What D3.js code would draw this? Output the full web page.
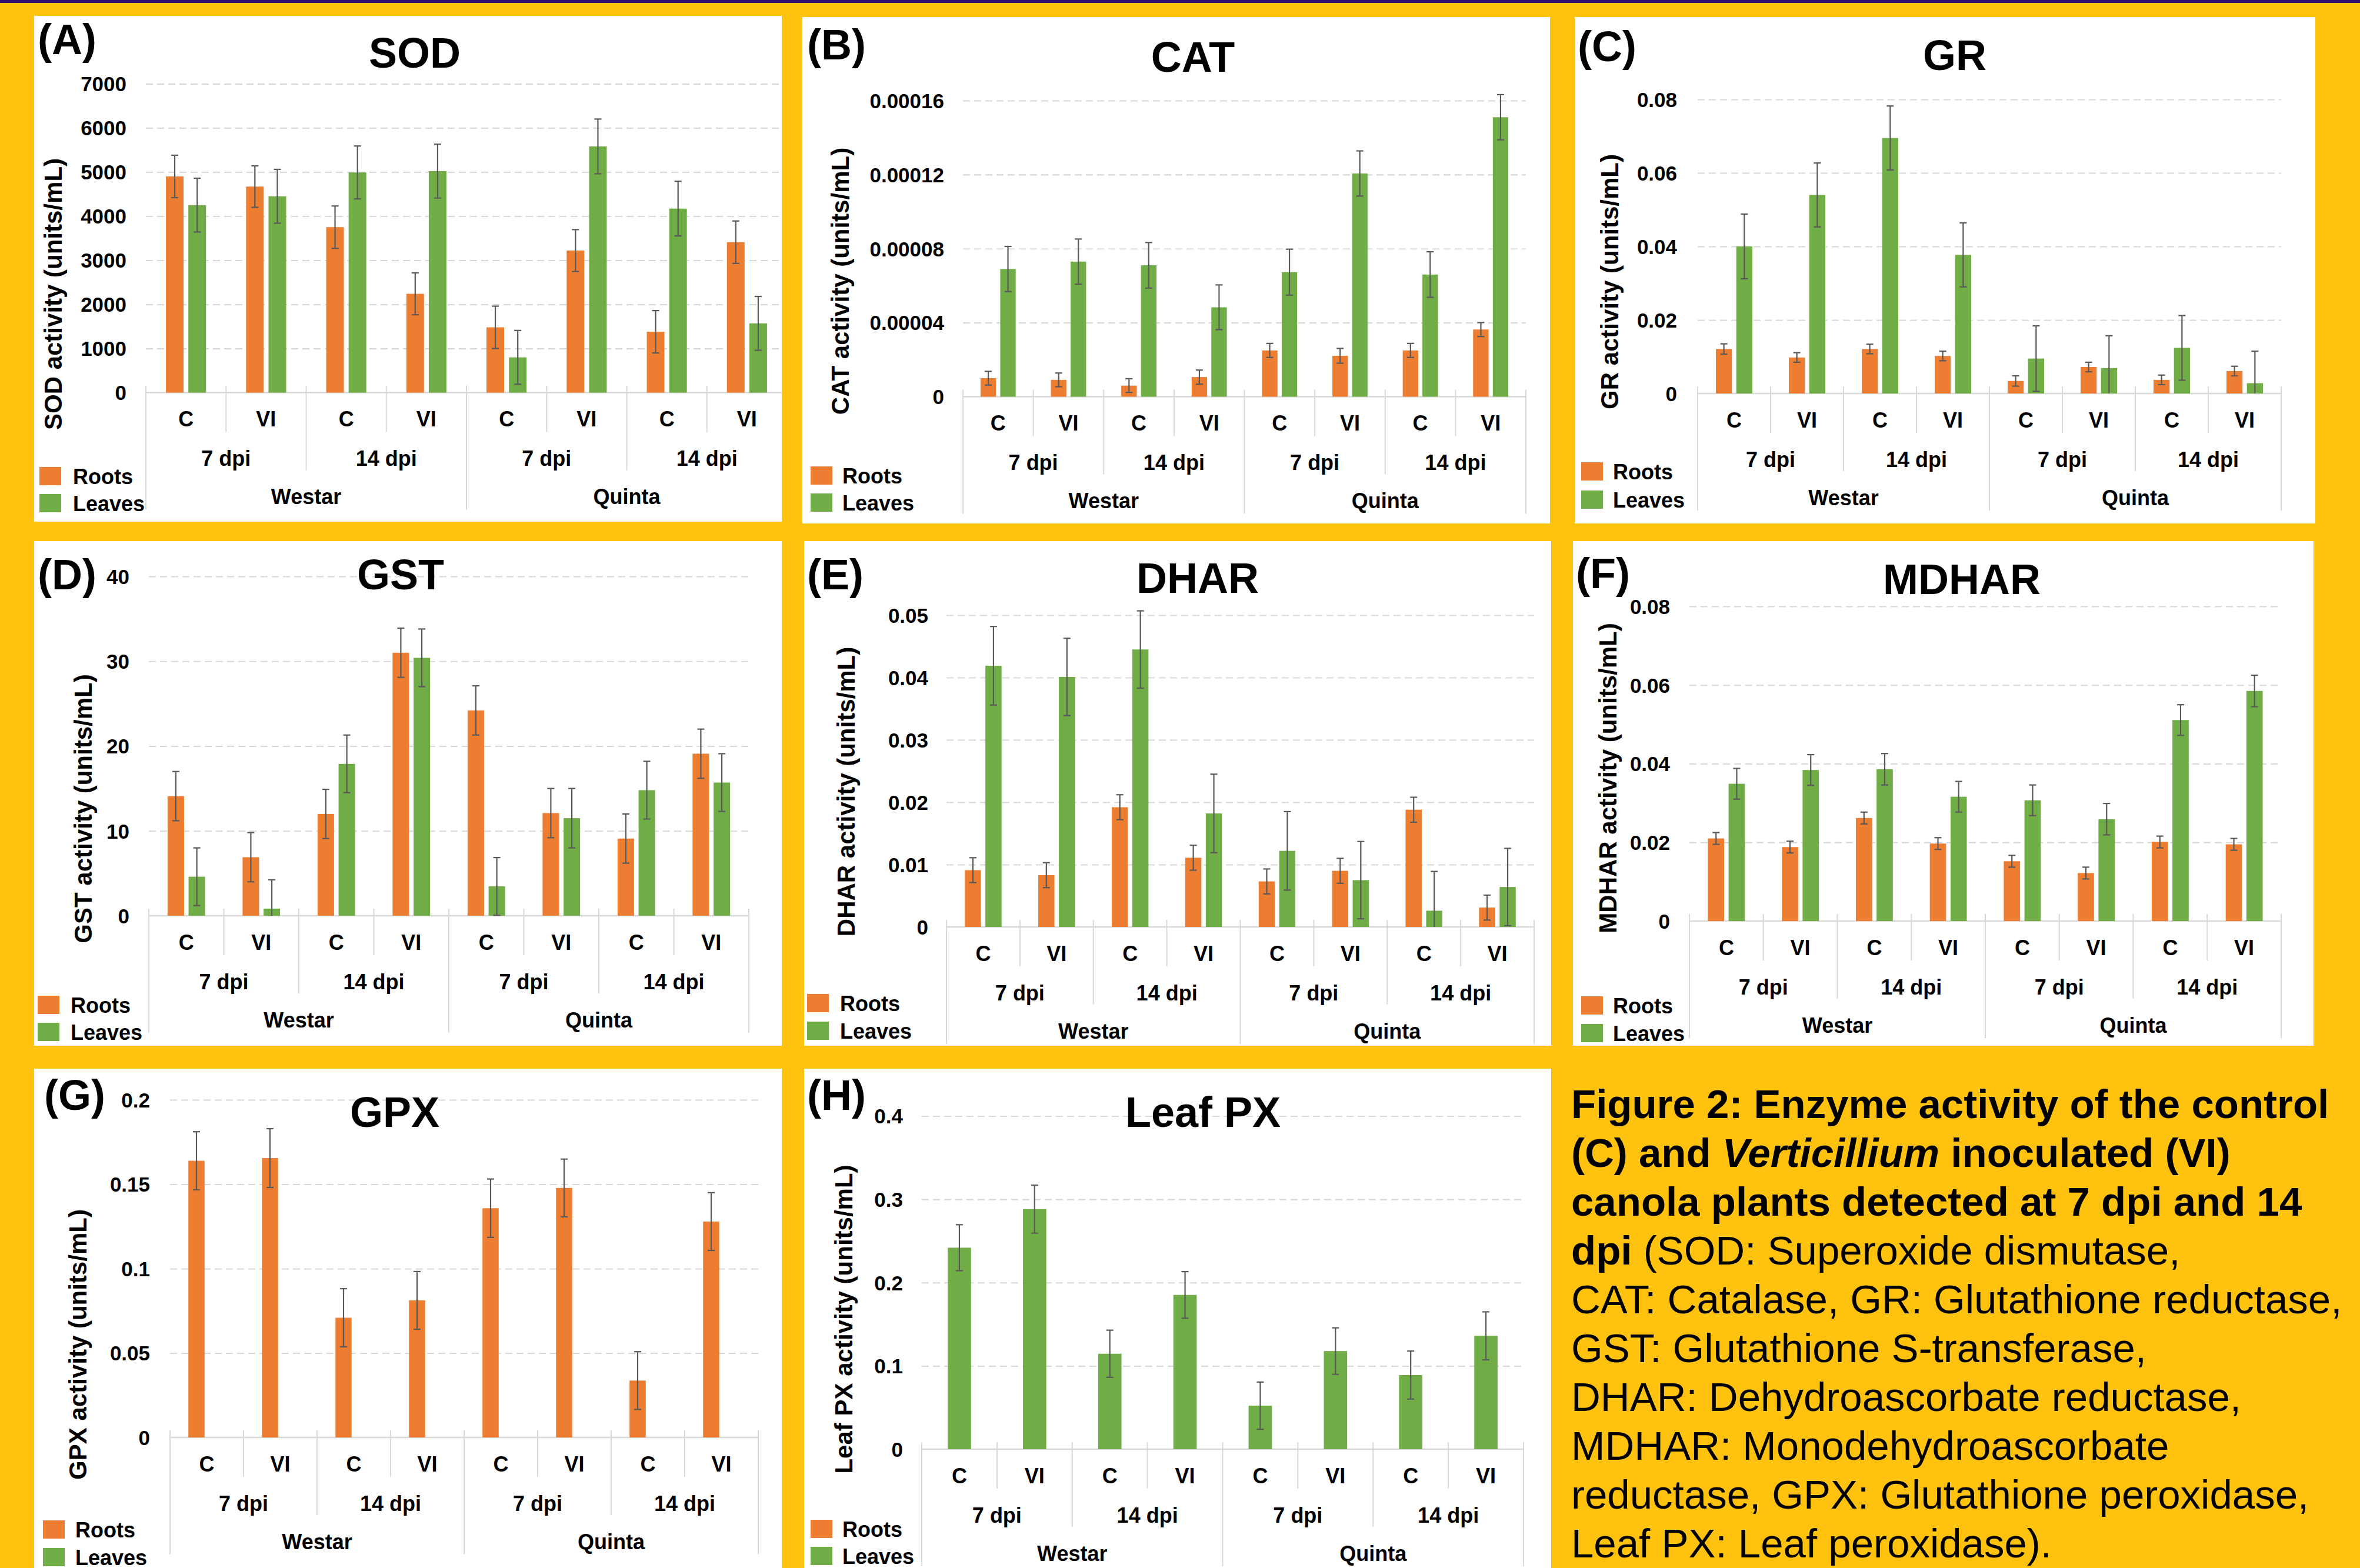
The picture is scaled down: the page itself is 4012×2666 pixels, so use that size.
<!DOCTYPE html>
<html>
<head>
<meta charset="utf-8">
<script src="https://cdn.jsdelivr.net/npm/d3@7"></script>
<style>
  body { margin: 0; background: #FFC20E; }
  svg { display: block; font-family: "Liberation Sans", Arial, sans-serif; }
  text { white-space: pre; }
</style>
</head>
<body>
<svg id="fig" width="4012" height="2666"></svg>
<script>
// categories on the multi-level x axis
const categories = ["C", "VI", "C", "VI", "C", "VI", "C", "VI"];
const dpiLabels = ["7 dpi", "14 dpi", "7 dpi", "14 dpi"];
const cultivars = ["Westar", "Quinta"];
const seriesNames = ["Roots", "Leaves"];

// SOD
const sodRoots = [4900, 4670, 3750, 2240, 1480, 3220, 1380, 3410];
const sodRootsErr = [480, 470, 480, 475, 480, 475, 480, 480];
const sodLeaves = [4250, 4450, 4990, 5020, 800, 5580, 4170, 1570];
const sodLeavesErr = [610, 610, 600, 610, 610, 620, 620, 610];
const sodTicks = [0, 1000, 2000, 3000, 4000, 5000, 6000, 7000];
const sodTickLabels = ["0", "1000", "2000", "3000", "4000", "5000", "6000", "7000"];

// CAT
const catRoots = [0.0000100, 0.0000091, 0.0000060, 0.0000106, 0.0000250, 0.0000221, 0.0000250, 0.0000363];
const catRootsErr = [0.0000037, 0.0000037, 0.0000037, 0.0000038, 0.0000038, 0.0000040, 0.0000038, 0.0000038];
const catLeaves = [0.0000690, 0.0000730, 0.0000710, 0.0000483, 0.0000673, 0.0001206, 0.0000660, 0.0001510];
const catLeavesErr = [0.0000122, 0.0000122, 0.0000123, 0.0000121, 0.0000124, 0.0000122, 0.0000123, 0.0000122];
const catTicks = [0, 0.00004, 0.00008, 0.00012, 0.00016];
const catTickLabels = ["0", "0.00004", "0.00008", "0.00012", "0.00016"];

// GR
const grRoots = [0.0121, 0.0098, 0.0121, 0.0102, 0.0034, 0.0072, 0.0037, 0.0061];
const grRootsErr = [0.0014, 0.0013, 0.0013, 0.0013, 0.0014, 0.0013, 0.0013, 0.0013];
const grLeaves = [0.0400, 0.0540, 0.0695, 0.0377, 0.0095, 0.0069, 0.0124, 0.0028];
const grLeavesErr = [0.0088, 0.0087, 0.0087, 0.0087, 0.0089, 0.0088, 0.0088, 0.0087];
const grTicks = [0, 0.02, 0.04, 0.06, 0.08];
const grTickLabels = ["0", "0.02", "0.04", "0.06", "0.08"];

// GST
const gstRoots = [14.1, 6.9, 12.0, 31.0, 24.2, 12.1, 9.1, 19.1];
const gstRootsErr = [2.9, 2.9, 2.9, 2.9, 2.9, 2.9, 2.9, 2.9];
const gstLeaves = [4.6, 0.84, 17.9, 30.4, 3.46, 11.5, 14.8, 15.7];
const gstLeavesErr = [3.4, 3.4, 3.4, 3.4, 3.4, 3.5, 3.4, 3.4];
const gstTicks = [0, 10, 20, 30, 40];
const gstTickLabels = ["0", "10", "20", "30", "40"];

// DHAR
const dharRoots = [0.0091, 0.0083, 0.0192, 0.0111, 0.0073, 0.0090, 0.0188, 0.0031];
const dharRootsErr = [0.0020, 0.0020, 0.0020, 0.0020, 0.0020, 0.0020, 0.0020, 0.0020];
const dharLeaves = [0.0419, 0.0401, 0.0445, 0.0182, 0.0122, 0.0075, 0.0026, 0.0064];
const dharLeavesErr = [0.0063, 0.0062, 0.0062, 0.0063, 0.0063, 0.0062, 0.0063, 0.0062];
const dharTicks = [0, 0.01, 0.02, 0.03, 0.04, 0.05];
const dharTickLabels = ["0", "0.01", "0.02", "0.03", "0.04", "0.05"];

// MDHAR
const mdharRoots = [0.0210, 0.0188, 0.0262, 0.0197, 0.0152, 0.0122, 0.0201, 0.0195];
const mdharRootsErr = [0.0015, 0.0015, 0.0015, 0.0015, 0.0015, 0.0015, 0.0015, 0.0015];
const mdharLeaves = [0.0349, 0.0384, 0.0386, 0.0316, 0.0307, 0.0259, 0.0511, 0.0585];
const mdharLeavesErr = [0.0039, 0.0039, 0.0040, 0.0039, 0.0039, 0.0040, 0.0039, 0.0040];
const mdharTicks = [0, 0.02, 0.04, 0.06, 0.08];
const mdharTickLabels = ["0", "0.02", "0.04", "0.06", "0.08"];

// GPX (roots only, leaves are zero)
const gpxRoots = [0.1639, 0.1655, 0.0709, 0.0812, 0.1358, 0.1478, 0.0337, 0.1279];
const gpxRootsErr = [0.0172, 0.0174, 0.0172, 0.0171, 0.0173, 0.0171, 0.0171, 0.0171];
const gpxLeaves = [0, 0, 0, 0, 0, 0, 0, 0];
const gpxLeavesErr = [0, 0, 0, 0, 0, 0, 0, 0];
const gpxTicks = [0, 0.05, 0.1, 0.15, 0.2];
const gpxTickLabels = ["0", "0.05", "0.1", "0.15", "0.2"];

// Leaf PX (leaves only)
const leafPxLeaves = [0.2419, 0.2882, 0.1146, 0.1852, 0.0523, 0.1178, 0.0890, 0.1361];
const leafPxLeavesErr = [0.0276, 0.0288, 0.0283, 0.0280, 0.0283, 0.0279, 0.0288, 0.0288];
const leafPxTicks = [0, 0.1, 0.2, 0.3, 0.4];
const leafPxTickLabels = ["0", "0.1", "0.2", "0.3", "0.4"];

const captionLines = [
  [["Figure 2: Enzyme activity of the control", "b"]],
  [["(C) and ", "b"], ["Verticillium", "bi"], [" inoculated (VI)", "b"]],
  [["canola plants detected at 7 dpi and 14", "b"]],
  [["dpi", "b"], [" (SOD: Superoxide dismutase,", "n"]],
  [["CAT: Catalase, GR: Glutathione reductase,", "n"]],
  [["GST: Glutathione S-transferase,", "n"]],
  [["DHAR: Dehydroascorbate reductase,", "n"]],
  [["MDHAR: Monodehydroascorbate", "n"]],
  [["reductase, GPX: Glutathione peroxidase,", "n"]],
  [["Leaf PX: Leaf peroxidase).", "n"]]
];

const colors = { Roots: "#ED7D31", Leaves: "#70AD47" };

// panel setup: data + where things sit on the page
const panels = [
  { tag: "(A)", title: "SOD", yTitle: "SOD activity (units/mL)",
    roots: sodRoots, rootsErr: sodRootsErr, leaves: sodLeaves, leavesErr: sodLeavesErr,
    ticks: sodTicks, tickLabels: sodTickLabels,
    box: [58, 27, 1329, 887], tagX: 64, tagY: 92, titleX: 705, titleY: 115,
    plotX: [248, 1338], zeroY: 667.6, topY: 142.4, tickRight: 215,
    yTitleX: 90, yTitleY: 500, legX: 67, legY: [794, 840], legTextX: 124 },
  { tag: "(B)", title: "CAT", yTitle: "CAT activity (units/mL)",
    roots: catRoots, rootsErr: catRootsErr, leaves: catLeaves, leavesErr: catLeavesErr,
    ticks: catTicks, tickLabels: catTickLabels,
    box: [1364, 29, 2635, 890], tagX: 1372, tagY: 101, titleX: 2028, titleY: 122,
    plotX: [1637, 2594], zeroY: 674.5, topY: 171, tickRight: 1605,
    yTitleX: 1428, yTitleY: 478, legX: 1378, legY: [793, 839], legTextX: 1432 },
  { tag: "(C)", title: "GR", yTitle: "GR activity (units/mL)",
    roots: grRoots, rootsErr: grRootsErr, leaves: grLeaves, leavesErr: grLeavesErr,
    ticks: grTicks, tickLabels: grTickLabels,
    box: [2677, 29, 3936, 890], tagX: 2682, tagY: 104, titleX: 3323, titleY: 119,
    plotX: [2886, 3878], zeroY: 669, topY: 169, tickRight: 2851,
    yTitleX: 2736, yTitleY: 479, legX: 2688, legY: [786, 834], legTextX: 2742 },
  { tag: "(D)", title: "GST", yTitle: "GST activity (units/mL)",
    roots: gstRoots, rootsErr: gstRootsErr, leaves: gstLeaves, leavesErr: gstLeavesErr,
    ticks: gstTicks, tickLabels: gstTickLabels,
    box: [58, 920, 1329, 1778], tagX: 64, tagY: 1002, titleX: 681, titleY: 1002,
    plotX: [253, 1273], zeroY: 1557, topY: 980, tickRight: 220,
    yTitleX: 141, yTitleY: 1375, legX: 64, legY: [1693, 1739], legTextX: 120 },
  { tag: "(E)", title: "DHAR", yTitle: "DHAR activity (units/mL)",
    roots: dharRoots, rootsErr: dharRootsErr, leaves: dharLeaves, leavesErr: dharLeavesErr,
    ticks: dharTicks, tickLabels: dharTickLabels,
    box: [1367, 920, 2637, 1778], tagX: 1372, tagY: 1002, titleX: 2036, titleY: 1008,
    plotX: [1609, 2608], zeroY: 1576, topY: 1046, tickRight: 1578,
    yTitleX: 1438, yTitleY: 1346, legX: 1372, legY: [1690, 1737], legTextX: 1428 },
  { tag: "(F)", title: "MDHAR", yTitle: "MDHAR activity (units/mL)",
    roots: mdharRoots, rootsErr: mdharRootsErr, leaves: mdharLeaves, leavesErr: mdharLeavesErr,
    ticks: mdharTicks, tickLabels: mdharTickLabels,
    box: [2674, 920, 3933, 1778], tagX: 2679, tagY: 1000, titleX: 3335, titleY: 1010,
    plotX: [2872, 3878], zeroY: 1566, topY: 1031, tickRight: 2839,
    yTitleX: 2733, yTitleY: 1323, legX: 2688, legY: [1694, 1741], legTextX: 2742 },
  { tag: "(G)", title: "GPX", yTitle: "GPX activity (units/mL)",
    roots: gpxRoots, rootsErr: gpxRootsErr, leaves: gpxLeaves, leavesErr: gpxLeavesErr,
    ticks: gpxTicks, tickLabels: gpxTickLabels,
    box: [58, 1817, 1329, 2666], tagX: 75, tagY: 1887, titleX: 671, titleY: 1916,
    plotX: [289, 1289], zeroY: 2444, topY: 1870, tickRight: 255,
    yTitleX: 132, yTitleY: 2286, legX: 73, legY: [2585, 2632], legTextX: 128 },
  { tag: "(H)", title: "Leaf PX", yTitle: "Leaf PX activity (units/mL)",
    roots: null, rootsErr: null, leaves: leafPxLeaves, leavesErr: leafPxLeavesErr,
    ticks: leafPxTicks, tickLabels: leafPxTickLabels,
    box: [1367, 1817, 2637, 2666], tagX: 1372, tagY: 1887, titleX: 2045, titleY: 1916,
    plotX: [1567, 2590], zeroY: 2464, topY: 1897.5, tickRight: 1535,
    yTitleX: 1434, yTitleY: 2243, legX: 1378, legY: [2584, 2630], legTextX: 1432 }
];

const svg = d3.select("#fig");
svg.append("rect").attr("width", 4012).attr("height", 2666).attr("fill", "#FFC20E");
svg.append("rect").attr("width", 4012).attr("height", 5).attr("fill", "#2E0D6B");

panels.forEach((p, pi) => {
  const [bx0, by0, bx1, by1] = p.box;
  const clipId = "clip" + pi;
  svg.append("clipPath").attr("id", clipId)
    .append("rect").attr("x", bx0).attr("y", by0).attr("width", bx1 - bx0).attr("height", by1 - by0);
  const g = svg.append("g").attr("clip-path", `url(#${clipId})`);

  g.append("rect").attr("x", bx0).attr("y", by0)
    .attr("width", bx1 - bx0).attr("height", by1 - by0).attr("fill", "#fff");

  const yMax = p.ticks[p.ticks.length - 1];
  const y = d3.scaleLinear().domain([0, yMax]).range([p.zeroY, p.topY]);
  const x0 = d3.scaleBand().domain(d3.range(categories.length)).range(p.plotX).padding(0);
  const bw = x0.bandwidth();

  // dashed gridlines
  const grid = g.append("g").attr("transform", `translate(${p.plotX[0]},0)`)
    .call(d3.axisLeft(y).tickValues(p.ticks.filter(t => t > 0))
      .tickSize(-(p.plotX[1] - p.plotX[0])).tickFormat(""));
  grid.select(".domain").remove();
  grid.selectAll("line").attr("stroke", "#d9d9d9").attr("stroke-width", 2.2).attr("stroke-dasharray", "12,7");

  // y tick labels
  const yAxis = g.append("g").attr("transform", `translate(${p.tickRight},0)`)
    .call(d3.axisLeft(y).tickValues(p.ticks).tickSize(0).tickPadding(0)
      .tickFormat((d, i) => p.tickLabels[i]));
  yAxis.select(".domain").remove();
  yAxis.selectAll("text").attr("font-size", 35).attr("font-weight", "bold")
    .attr("fill", "#000").attr("font-family", "Liberation Sans, Arial, sans-serif")
    .attr("dy", "0.35em");

  // category axis baseline and dividers
  g.append("line").attr("x1", p.plotX[0]).attr("x2", p.plotX[1])
    .attr("y1", p.zeroY).attr("y2", p.zeroY)
    .attr("stroke", "#d9d9d9").attr("stroke-width", 2.5);

  const step = x0.step();
  g.selectAll(".div").data(d3.range(categories.length + 1)).join("line")
    .attr("x1", i => p.plotX[0] + i * step).attr("x2", i => p.plotX[0] + i * step)
    .attr("y1", p.zeroY - 12)
    .attr("y2", i => p.zeroY + (i % 4 === 0 ? 199 : i % 2 === 0 ? 132 : 67))
    .attr("stroke", "#d9d9d9").attr("stroke-width", 2);

  const axText = (sel) => sel.attr("font-size", 36).attr("font-weight", "bold")
    .attr("text-anchor", "middle").attr("dominant-baseline", "central").attr("fill", "#000");

  g.selectAll(".cat").data(categories).join("text")
    .attr("x", (d, i) => x0(i) + bw / 2).attr("y", p.zeroY + 45).text(d => d).call(axText);
  g.selectAll(".dpi").data(dpiLabels).join("text")
    .attr("x", (d, i) => p.plotX[0] + (2 * i + 1) * step).attr("y", p.zeroY + 112).text(d => d).call(axText);
  g.selectAll(".cult").data(cultivars).join("text")
    .attr("x", (d, i) => p.plotX[0] + (4 * i + 2) * step).attr("y", p.zeroY + 177).text(d => d).call(axText);

  // bars
  const present = seriesNames.filter(s => (s === "Roots" ? p.roots : p.leaves));
  const x1 = d3.scaleBand().domain(present).range([0, bw]);
  if (present.length === 2) x1.paddingInner(0.2143).paddingOuter(0.893);
  else x1.paddingInner(0).paddingOuter(1.113);

  present.forEach(s => {
    const vals = s === "Roots" ? p.roots : p.leaves;
    const errs = s === "Roots" ? p.rootsErr : p.leavesErr;
    const rows = vals.map((v, i) => ({ i, v, e: errs[i] }));

    g.selectAll(".bar-" + s).data(rows).join("rect")
      .attr("x", d => x0(d.i) + x1(s)).attr("width", x1.bandwidth())
      .attr("y", d => y(d.v)).attr("height", d => y(0) - y(d.v))
      .attr("fill", colors[s]);

    const eb = rows.filter(d => d.e > 0);
    const cx = d => x0(d.i) + x1(s) + x1.bandwidth() / 2;
    const lo = d => Math.max(0, d.v - d.e);
    g.selectAll(".err-" + s).data(eb).join("line")
      .attr("x1", cx).attr("x2", cx)
      .attr("y1", d => y(d.v + d.e)).attr("y2", d => y(lo(d)))
      .attr("stroke", "#595959").attr("stroke-width", 2.2);
    g.selectAll(".capt-" + s).data(eb).join("line")
      .attr("x1", d => cx(d) - 6).attr("x2", d => cx(d) + 6)
      .attr("y1", d => y(d.v + d.e)).attr("y2", d => y(d.v + d.e))
      .attr("stroke", "#595959").attr("stroke-width", 2.2);
    g.selectAll(".capb-" + s).data(eb.filter(d => d.v - d.e > 0)).join("line")
      .attr("x1", d => cx(d) - 6).attr("x2", d => cx(d) + 6)
      .attr("y1", d => y(d.v - d.e)).attr("y2", d => y(d.v - d.e))
      .attr("stroke", "#595959").attr("stroke-width", 2.2);
  });

  // legend
  seriesNames.forEach((s, k) => {
    g.append("rect").attr("x", p.legX).attr("y", p.legY[k])
      .attr("width", 37).attr("height", 31).attr("fill", colors[s]);
    g.append("text").attr("x", p.legTextX).attr("y", p.legY[k] + 16)
      .attr("dominant-baseline", "central").attr("font-size", 36).attr("font-weight", "bold")
      .text(s);
  });

  // y title
  g.append("text")
    .attr("transform", `translate(${p.yTitleX},${p.yTitleY}) rotate(-90)`)
    .attr("text-anchor", "middle").attr("dominant-baseline", "central")
    .attr("font-size", 42).attr("font-weight", "bold").text(p.yTitle);

  // panel tag and title
  g.append("text").attr("x", p.tagX).attr("y", p.tagY)
    .attr("font-size", 72).attr("font-weight", "bold").text(p.tag);
  g.append("text").attr("x", p.titleX).attr("y", p.titleY).attr("text-anchor", "middle")
    .attr("font-size", 72).attr("font-weight", "bold").text(p.title);
});

// caption
const cap = svg.append("g");
captionLines.forEach((segs, li) => {
  const t = cap.append("text").attr("x", 2671).attr("y", 1901 + li * 83)
    .attr("font-size", 69).attr("fill", "#000");
  segs.forEach(([txt, st]) => {
    t.append("tspan").text(txt)
      .attr("font-weight", st === "n" ? "normal" : "bold")
      .attr("font-style", st === "bi" ? "italic" : "normal");
  });
});
</script>
</body>
</html>
